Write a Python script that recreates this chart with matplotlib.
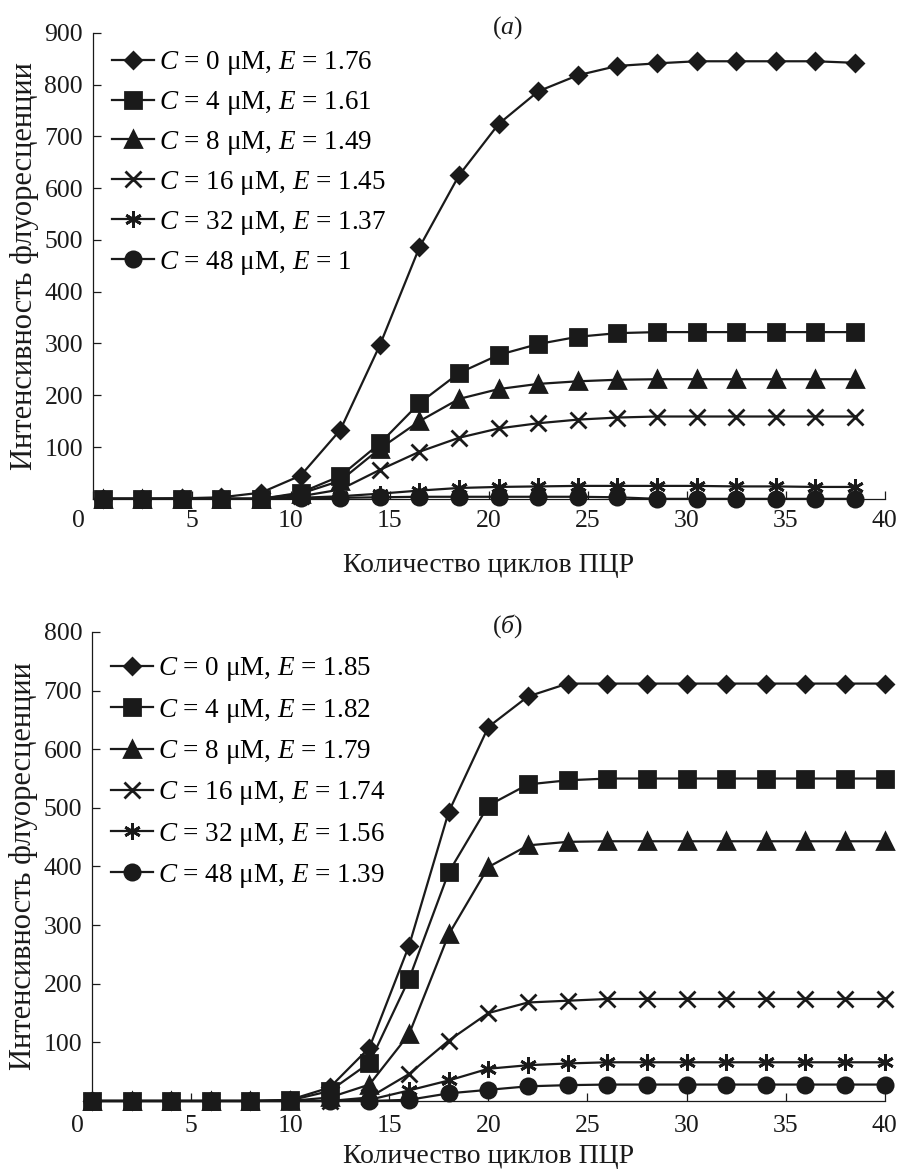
import matplotlib
matplotlib.use("Agg")
import matplotlib.pyplot as plt
import matplotlib.transforms as mtransforms

plt.rcParams['font.family'] = ['Liberation Serif', 'DejaVu Serif']
plt.rcParams['mathtext.fontset'] = 'custom'
plt.rcParams['mathtext.rm'] = 'Liberation Serif'
plt.rcParams['mathtext.it'] = 'Liberation Serif:italic'

# --- panel (a) ---
cycles_a = [0.5, 2.5, 4.5, 6.5, 8.5, 10.5, 12.5, 14.5, 16.5, 18.5,
            20.5, 22.5, 24.5, 26.5, 28.5, 30.5, 32.5, 34.5, 36.5, 38.5]
a_c0 = [0, 0, 1, 3, 12, 45, 133, 297, 486, 625, 724, 787, 818, 836, 841, 845, 845, 845, 845, 842]
a_c4 = [0, 0, 0, 0, 0, 12, 44, 107, 185, 243, 278, 299, 313, 320, 322, 322, 322, 322, 322, 322]
a_c8 = [0, 0, 0, 0, 0, 10, 35, 97, 150, 193, 212, 222, 227, 230, 231, 231, 231, 231, 231, 231]
a_c16 = [0, 0, 0, 0, 0, 5, 18, 56, 91, 118, 136, 146, 153, 157, 159, 159, 159, 159, 159, 159]
a_c32 = [0, 0, 0, 0, 0, 2, 5, 10, 16, 21, 23, 24, 25, 25, 25, 25, 24, 24, 23, 23]
a_c48 = [0, 0, 0, 0, 0, 1, 2, 3, 4, 4, 4, 4, 4, 3, 0, 0, 0, 0, 0, 0]
labels_a = [r'$C$ = 0 μM, $E$ = 1.76', r'$C$ = 4 μM, $E$ = 1.61',
            r'$C$ = 8 μM, $E$ = 1.49', r'$C$ = 16 μM, $E$ = 1.45',
            r'$C$ = 32 μM, $E$ = 1.37', r'$C$ = 48 μM, $E$ = 1']

# --- panel (б) ---
cycles_b = [0, 2, 4, 6, 8, 10, 12, 14, 16, 18, 20, 22, 24, 26, 28, 30, 32, 34, 36, 38, 40]
b_c0 = [0, 0, 0, 0, 0, 2, 23, 91, 265, 493, 638, 690, 712, 712, 712, 712, 712, 712, 712, 712, 712]
b_c4 = [0, 0, 0, 0, 0, 1, 17, 65, 208, 390, 504, 540, 547, 550, 550, 550, 550, 550, 550, 550, 550]
b_c8 = [0, 0, 0, 0, 0, 0, 6, 28, 114, 284, 399, 436, 442, 443, 443, 443, 443, 443, 443, 443, 443]
b_c16 = [0, 0, 0, 0, 0, 0, 0, 6, 46, 103, 150, 168, 171, 174, 174, 174, 174, 174, 174, 174, 174]
b_c32 = [0, 0, 0, 0, 0, 0, 0, 2, 18, 35, 55, 61, 64, 66, 66, 66, 66, 66, 66, 66, 66]
b_c48 = [0, 0, 0, 0, 0, 0, 0, 0, 2, 13, 19, 25, 27, 28, 28, 28, 28, 28, 28, 28, 28]
labels_b = [r'$C$ = 0 μM, $E$ = 1.85', r'$C$ = 4 μM, $E$ = 1.82',
            r'$C$ = 8 μM, $E$ = 1.79', r'$C$ = 16 μM, $E$ = 1.74',
            r'$C$ = 32 μM, $E$ = 1.56', r'$C$ = 48 μM, $E$ = 1.39']

markers = [('D', 8.5), ('s', 11), ('^', 11), ('x', 11.5), ((6, 2, 0), 12), ('o', 11)]
ink = '#1a1a1a'
FS = 18.5


def draw_panel(ax, x, series, labels, ymax, tag, tag_y, leg_y, leg_sp, xpad, xlabpad):
    for y, lab, (m, ms) in zip(series, labels, markers):
        ax.plot(x, y, color=ink, lw=1.6, marker=m, ms=ms, mew=2.0,
                mfc=ink, mec=ink, label=lab, clip_on=False)
    ax.set_xlim(0, 40)
    ax.set_ylim(0, ymax)
    ax.set_xticks(range(0, 41, 5))
    ax.set_yticks(range(100, ymax + 1, 100))
    ax.spines['top'].set_visible(False)
    ax.spines['right'].set_visible(False)
    for s in ('left', 'bottom'):
        ax.spines[s].set_linewidth(0.9)
        ax.spines[s].set_color(ink)
    ax.tick_params(direction='in', length=6, width=0.9, color=ink,
                   labelsize=FS, labelcolor=ink)
    ax.tick_params(axis='x', pad=xpad)
    ax.tick_params(axis='y', pad=7)
    # the "0" sits left of the origin, as in the source figure
    shift = mtransforms.ScaledTranslation(-14 / 100, 0, ax.figure.dpi_scale_trans)
    lbl0 = ax.get_xticklabels()[0]
    lbl0.set_transform(lbl0.get_transform() + shift)
    ax.set_xlabel('Количество циклов ПЦР', fontsize=20, color=ink, labelpad=xlabpad)
    ax.set_ylabel('Интенсивность флуоресценции', fontsize=22, color=ink, labelpad=4)
    ax.text(0.524, tag_y, tag, transform=ax.transAxes, ha='center', va='center',
            fontsize=FS, color=ink)
    ax.legend(loc='upper left', bbox_to_anchor=(0.024, leg_y), frameon=False,
              fontsize=19.5, handlelength=1.55, handletextpad=0.2,
              labelspacing=leg_sp, borderpad=0, borderaxespad=0)


fig = plt.figure(figsize=(9.01, 11.71), dpi=100)
ax1 = fig.add_axes([0.103, 0.574, 0.879, 0.398])
ax2 = fig.add_axes([0.102, 0.0598, 0.880, 0.4005])

draw_panel(ax1, cycles_a, [a_c0, a_c4, a_c8, a_c16, a_c32, a_c48], labels_a, 900,
           r'($a$)', 1.012, 0.965, 0.44, 8, 15)
draw_panel(ax2, cycles_b, [b_c0, b_c4, b_c8, b_c16, b_c32, b_c48], labels_b, 800,
           r'($б$)', 1.013, 0.95, 0.49, 10, 5)

fig.savefig('out.png', dpi=100)
